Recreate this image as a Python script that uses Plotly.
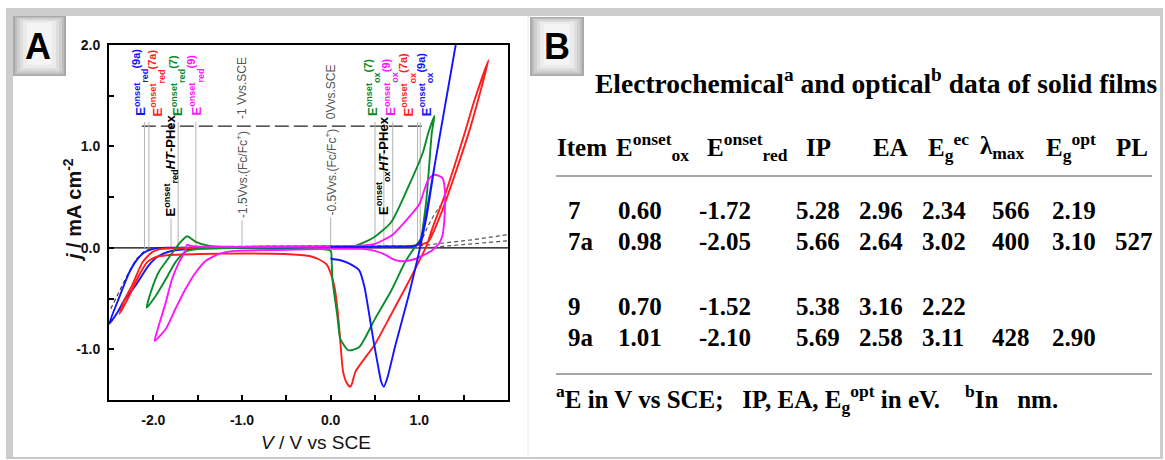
import plotly.graph_objects as go

W, H = 1165, 460

# ---------------- CV data (x: V vs SCE, y: mA cm^-2) ----------------
# 9a (blue): reduction scan and oxidation scan
blue_neg_x = [0.0, -1.0, -1.6, -1.94, -2.07, -2.16, -2.27, -2.39, -2.50, -2.47, -2.40, -2.33, -2.20, -2.05, -1.94, -1.79, -1.56, -1.0, 0.0]
blue_neg_y = [0.005, 0.005, 0.0, 0.0, -0.03, -0.09, -0.24, -0.50, -0.75, -0.72, -0.63, -0.52, -0.37, -0.17, -0.08, -0.03, -0.01, 0.0, 0.0]
blue_pos_x = [0.0, 0.5, 0.95, 1.0, 1.05, 1.15, 1.28, 1.42, 1.30, 1.18, 1.08, 1.02, 0.99, 0.88, 0.73, 0.64, 0.60, 0.57, 0.54, 0.48, 0.43, 0.38, 0.32, 0.20, 0.10, 0.02, 0.0]
blue_pos_y = [0.01, 0.01, 0.02, 0.05, 0.2, 0.7, 1.35, 2.05, 1.45, 0.85, 0.3, 0.05, -0.07, -0.47, -0.96, -1.28, -1.37, -1.32, -1.19, -0.90, -0.63, -0.38, -0.22, -0.15, -0.12, -0.11, -0.10]

# 7a (red): full loop
red_x = [1.78, 1.62, 1.49, 1.30, 1.15, 1.08, 0.90, 0.68, 0.50, 0.28, 0.24, 0.22, 0.18, 0.14, 0.12, 0.10, 0.07, 0.04, 0.0, -0.04, -0.14, -0.24, -0.52, -1.0, -1.45, -1.82, -1.97, -2.07, -2.16, -2.27, -2.38,
         -2.33, -2.24, -2.12, -2.01, -1.90, -1.5, -1.0, 0.0, 0.5, 0.9, 1.0, 1.1, 1.25, 1.40, 1.58, 1.78]
red_y = [1.85, 1.45, 1.07, 0.55, 0.2, 0.02, -0.30, -0.66, -0.95, -1.22, -1.34, -1.37, -1.33, -1.22, -1.05, -0.83, -0.55, -0.37, -0.25, -0.17, -0.11, -0.08, -0.06, -0.055, -0.06, -0.07, -0.09, -0.14, -0.27, -0.47, -0.65,
         -0.52, -0.37, -0.14, -0.04, -0.01, 0.0, 0.01, 0.015, 0.015, 0.02, 0.03, 0.06, 0.35, 0.72, 1.2, 1.85]

# 7 (green): full loop
green_x = [1.17, 1.14, 1.11, 1.08, 1.04, 1.02, 0.96, 0.84, 0.69, 0.50, 0.32, 0.20, 0.11, 0.075, 0.04, 0.02, 0.01, 0.0, -0.3, -1.07, -1.37, -1.52, -1.62, -1.71, -1.82, -1.94, -2.03, -2.075,
           -1.97, -1.86, -1.75, -1.64, -1.49, -1.0, 0.0, 0.28, 0.48, 0.68, 0.88, 1.04, 1.10, 1.17]
green_y = [1.30, 1.13, 0.80, 0.48, 0.20, 0.09, 0.02, -0.14, -0.41, -0.70, -0.98, -1.01, -0.90, -0.67, -0.45, -0.31, -0.11, -0.03, 0.0, 0.01, 0.02, 0.06, 0.115, 0.04, -0.09, -0.24, -0.44, -0.59,
           -0.47, -0.31, -0.14, -0.04, -0.01, 0.0, 0.01, 0.02, 0.10, 0.25, 0.61, 0.94, 1.13, 1.30]

# 9 (magenta): reduction loop and oxidation loop
mag_neg_x = [0.0, -0.5, -1.0, -1.4, -1.58, -1.62, -1.64, -1.71, -1.79, -1.86, -1.94, -1.985, -1.86, -1.75, -1.64, -1.52, -1.41, -1.26, -1.07, -0.5, 0.0]
mag_neg_y = [0.015, 0.012, 0.01, 0.01, 0.02, 0.03, -0.03, -0.14, -0.31, -0.54, -0.77, -0.917, -0.80, -0.60, -0.41, -0.24, -0.13, -0.06, -0.03, -0.02, -0.01]
mag_pos_x = [0.0, 0.3, 0.5, 0.6, 0.7, 0.8, 0.9, 1.0, 1.06, 1.10, 1.16, 1.22, 1.26, 1.285, 1.29, 1.28, 1.26, 1.22, 1.15, 1.05, 0.95, 0.85, 0.78, 0.70, 0.62, 0.50, 0.35, 0.0]
mag_pos_y = [0.015, 0.02, 0.04, 0.08, 0.13, 0.22, 0.32, 0.43, 0.58, 0.67, 0.72, 0.71, 0.69, 0.60, 0.45, 0.25, 0.12, 0.04, -0.02, -0.07, -0.11, -0.13, -0.13, -0.11, -0.07, -0.03, -0.01, -0.01]

# HT-PHex reference (dashed)
ref_left_x = [-2.48, -2.40, -2.30, -2.20, -2.10, -2.00, -1.0, 0.0, 1.0]
ref_left_y = [-0.60, -0.45, -0.28, -0.12, -0.03, 0.0, 0.015, 0.02, 0.02]
ref_up_x = [1.0, 1.2, 1.6, 2.0]
ref_up_y = [0.02, 0.04, 0.08, 0.13]
ref_low_x = [1.0, 1.2, 1.6, 2.0]
ref_low_y = [0.0, 0.01, 0.04, 0.07]
ref_rise_x = [1.04, 1.10, 1.17, 1.24]
ref_rise_y = [0.10, 0.22, 0.33, 0.42]

# onset markers (V vs SCE)
onset_red_items = ["(9a)", "(7a)", "(7)", "(9)"]
onset_red_vals = [-2.10, -2.05, -1.72, -1.52]
onset_ox_items = ["(7)", "(9)", "(7a)", "(9a)"]
onset_ox_vals = [0.60, 0.70, 0.98, 1.01]
htphex_onsets = [-1.80, 0.50]
fc_refs = [-1.0, 0.0]

# axis ticks
x_ticks = [-2.0, -1.5, -1.0, -0.5, 0.0, 0.5, 1.0, 1.5]
x_ticklabels = ["-2.0", "", "-1.0", "", "0.0", "", "1.0", ""]
y_ticks = [-1.0, -0.5, 0.0, 0.5, 1.0, 1.5, 2.0]
y_ticklabels = ["-1.0", "", "0.0", "", "1.0", "", "2.0"]

# ---------------- table data ----------------
tbl_items = ["7", "7a", "9", "9a"]
tbl_eox = ["0.60", "0.98", "0.70", "1.01"]
tbl_ered = ["-1.72", "-2.05", "-1.52", "-2.10"]
tbl_ip = ["5.28", "5.66", "5.38", "5.69"]
tbl_ea = ["2.96", "2.64", "3.16", "2.58"]
tbl_egec = ["2.34", "3.02", "2.22", "3.11"]
tbl_lmax = ["566", "400", "", "428"]
tbl_egopt = ["2.19", "3.10", "", "2.90"]
tbl_pl = ["", "527", "", ""]
tbl_headers = ["Item", "E<sup>onset</sup><sub>ox</sub>", "E<sup>onset</sup><sub>red</sub>", "IP", "EA",
               "E<sub>g</sub><sup>ec</sup>", "λ<sub>max</sub>", "E<sub>g</sub><sup>opt</sup>", "PL"]

BLUE, RED, GREEN, MAG = "#1414ff", "#ff1e1e", "#0b8c2c", "#ff14ff"


def px(x):
    return x / W


def py(y):
    return 1 - y / H


fig = go.Figure()

lw = 1.9
fig.add_trace(go.Scatter(x=ref_left_x, y=ref_left_y, mode="lines", line=dict(color="#444", width=1.2, dash="4px,3px")))
for xs, ys in [(ref_up_x, ref_up_y), (ref_low_x, ref_low_y), (ref_rise_x, ref_rise_y)]:
    fig.add_trace(go.Scatter(x=xs, y=ys, mode="lines", line=dict(color="#555", width=1.2, dash="4px,3px")))
fig.add_trace(go.Scatter(x=blue_neg_x, y=blue_neg_y, mode="lines", line=dict(color=BLUE, width=lw, shape="spline", smoothing=0.6)))
fig.add_trace(go.Scatter(x=red_x, y=red_y, mode="lines", line=dict(color=RED, width=lw, shape="spline", smoothing=0.6)))
fig.add_trace(go.Scatter(x=green_x, y=green_y, mode="lines", line=dict(color=GREEN, width=lw, shape="spline", smoothing=0.6)))
fig.add_trace(go.Scatter(x=mag_neg_x, y=mag_neg_y, mode="lines", line=dict(color=MAG, width=lw, shape="spline", smoothing=0.6)))
fig.add_trace(go.Scatter(x=mag_pos_x, y=mag_pos_y, mode="lines", line=dict(color=MAG, width=lw, shape="spline", smoothing=0.6)))
fig.add_trace(go.Scatter(x=blue_pos_x, y=blue_pos_y, mode="lines", line=dict(color=BLUE, width=lw, shape="spline", smoothing=0.6)))

shapes = []
annotations = []

# zero line
shapes.append(dict(type="line", xref="x", yref="y", x0=-2.5, x1=2.0, y0=0, y1=0, line=dict(color="black", width=1.4), layer="below"))
# dashed reference level
shapes.append(dict(type="line", xref="x", yref="y", x0=-2.13, x1=1.03, y0=1.2, y1=1.2,
                   line=dict(color="#222", width=1.4, dash="14px,5px"), layer="below"))
# vertical marker lines
for v in onset_red_vals + onset_ox_vals + [htphex_onsets[1]]:
    shapes.append(dict(type="line", xref="x", yref="y", x0=v, x1=v, y0=0, y1=1.24, line=dict(color="#b4b4b4", width=1), layer="below"))
for v, top in [(htphex_onsets[0], 0.29), (fc_refs[0], 0.27), (fc_refs[1], 0.30)]:
    shapes.append(dict(type="line", xref="x", yref="y", x0=v, x1=v, y0=0, y1=top, line=dict(color="#b4b4b4", width=1), layer="below"))

# rotated labels
lab_font = dict(family="Liberation Sans", size=13, weight="bold")
red_lab_x = [-2.16, -1.97, -1.74, -1.53]
ox_lab_x = [0.46, 0.66, 0.86, 1.06]


def onset_text(kind, item):
    return ("E<sup>onset</sup><sub>" + kind + "</sub><sup><span style='font-size:11px'>" + item + "</span></sup>")


for item, xl, c in zip(onset_red_items, red_lab_x, [BLUE, RED, GREEN, MAG]):
    annotations.append(dict(xref="x", yref="y", x=xl, y=1.28, xanchor="center", yanchor="bottom", textangle=-90, showarrow=False,
                            text=onset_text("red", item), font=dict(lab_font, color=c)))
for item, xl, c in zip(onset_ox_items, ox_lab_x, [GREEN, MAG, RED, BLUE]):
    annotations.append(dict(xref="x", yref="y", x=xl, y=1.28, xanchor="center", yanchor="bottom", textangle=-90, showarrow=False,
                            text=onset_text("ox", item), font=dict(lab_font, color=c)))
annotations.append(dict(xref="x", yref="y", x=-1.80, y=0.29, xanchor="center", yanchor="bottom", textangle=-90, showarrow=False,
                        text="E<sup>onset</sup><sub>red</sub><i>HT</i>-PHex", font=dict(lab_font, color="black")))
annotations.append(dict(xref="x", yref="y", x=0.59, y=0.31, xanchor="center", yanchor="bottom", textangle=-90, showarrow=False,
                        text="E<sup>onset</sup><sub>ox</sub><i>HT</i>-PHex", font=dict(lab_font, color="black")))
gfont = dict(family="Liberation Sans", size=12, color="#555")
annotations.append(dict(xref="x", yref="y", x=-1.0, y=0.27, xanchor="center", yanchor="bottom", textangle=-90, showarrow=False,
                        text="-1.5Vvs.(Fc/Fc<sup>+</sup>)", font=gfont))
annotations.append(dict(xref="x", yref="y", x=-1.0, y=1.25, xanchor="center", yanchor="bottom", textangle=-90, showarrow=False,
                        text="-1 Vvs.SCE", font=gfont))
annotations.append(dict(xref="x", yref="y", x=0.0, y=0.30, xanchor="center", yanchor="bottom", textangle=-90, showarrow=False,
                        text="-0.5Vvs.(Fc/Fc<sup>+</sup>)", font=gfont))
annotations.append(dict(xref="x", yref="y", x=0.0, y=1.25, xanchor="center", yanchor="bottom", textangle=-90, showarrow=False,
                        text="0Vvs.SCE", font=gfont))

# axis titles
annotations.append(dict(xref="paper", yref="paper", x=px(316), y=py(442), showarrow=False, xanchor="center", yanchor="middle",
                        text="<i>V</i> / V vs SCE", font=dict(family="Liberation Sans", size=19, color="#111")))
annotations.append(dict(xref="paper", yref="paper", x=px(72), y=py(210), showarrow=False, xanchor="center", yanchor="middle", textangle=-90,
                        text="<i>j</i>\u00a0/ mA cm<sup>-2</sup>", font=dict(family="Liberation Sans", size=20, color="#111", weight="bold")))

# ---------------- frames and panel labels ----------------
band = "#cdcdcd"
shapes.append(dict(type="rect", xref="paper", yref="paper", x0=px(6), x1=px(1163), y0=py(16), y1=py(8), fillcolor=band, line=dict(width=0), layer="below"))
shapes.append(dict(type="rect", xref="paper", yref="paper", x0=px(6), x1=px(13), y0=py(459), y1=py(8), fillcolor=band, line=dict(width=0), layer="below"))
shapes.append(dict(type="rect", xref="paper", yref="paper", x0=px(1160), x1=px(1163), y0=py(459), y1=py(8), fillcolor=band, line=dict(width=0), layer="below"))
shapes.append(dict(type="line", xref="paper", yref="paper", x0=px(6), x1=px(1163), y0=py(458), y1=py(458), line=dict(color="#c8c8c8", width=2), layer="below"))
shapes.append(dict(type="line", xref="paper", yref="paper", x0=px(528), x1=px(528), y0=py(16), y1=py(458), line=dict(color="#ececec", width=1), layer="below"))


def label_box(x0, y0, x1, y1):
    shades = ["#a9a9a9", "#bdbdbd", "#cfcfcf", "#dedede", "#ebebeb", "#f4f4f4"]
    insets = [0, 2, 4, 7, 10, 14]
    for s, d in zip(shades, insets):
        shapes.append(dict(type="rect", xref="paper", yref="paper", x0=px(x0 + d), x1=px(x1 - d), y0=py(y1 - d * 0.8), y1=py(y0 + d * 0.5),
                           fillcolor=s, line=dict(width=0), layer="below"))


label_box(13, 16, 66, 76)
label_box(530, 17, 584, 76)
annotations.append(dict(xref="paper", yref="paper", x=px(38), y=py(47), showarrow=False, text="A", xanchor="center", yanchor="middle",
                        font=dict(family="Liberation Sans", size=36, color="black", weight="bold")))
annotations.append(dict(xref="paper", yref="paper", x=px(557), y=py(47), showarrow=False, text="B", xanchor="center", yanchor="middle",
                        font=dict(family="Liberation Sans", size=36, color="black", weight="bold")))

# ---------------- table (panel B) ----------------
sf = "Liberation Serif"
annotations.append(dict(xref="paper", yref="paper", x=px(876), y=py(82), showarrow=False, xanchor="center", yanchor="middle",
                        text="Electrochemical<sup>a</sup> and optical<sup>b</sup> data of solid films",
                        font=dict(family=sf, size=27.5, color="black", weight="bold")))
head_x = [555, 614, 705, 804, 871, 926, 978, 1044, 1114]
for t, hx in zip(tbl_headers, head_x):
    annotations.append(dict(xref="paper", yref="paper", x=px(hx), y=py(147), showarrow=False, xanchor="left", yanchor="middle",
                            text=t, font=dict(family=sf, size=25, color="black", weight="bold")))
shapes.append(dict(type="line", xref="paper", yref="paper", x0=px(556), x1=px(1152), y0=py(176), y1=py(176), line=dict(color="#888", width=1.5)))
shapes.append(dict(type="line", xref="paper", yref="paper", x0=px(556), x1=px(1152), y0=py(374), y1=py(374), line=dict(color="#888", width=1.5)))
row_y = [210, 241, 306, 337]
col_x = [566, 616, 697, 794, 857, 920, 990, 1050, 1113]
cols = [tbl_items, tbl_eox, tbl_ered, tbl_ip, tbl_ea, tbl_egec, tbl_lmax, tbl_egopt, tbl_pl]
for col, cx in zip(cols, col_x):
    for val, ry in zip(col, row_y):
        if val:
            annotations.append(dict(xref="paper", yref="paper", x=px(cx), y=py(ry), showarrow=False, xanchor="left", yanchor="middle",
                                    text=val, font=dict(family=sf, size=25, color="black", weight="bold")))
annotations.append(dict(xref="paper", yref="paper", x=px(554), y=py(399), showarrow=False, xanchor="left", yanchor="middle",
                        text="<sup>a</sup>E in V vs SCE;\u00a0\u00a0 IP, EA, E<sub>g</sub><sup>opt</sup> in eV.\u00a0\u00a0\u00a0 <sup>b</sup>In\u00a0\u00a0 nm.",
                        font=dict(family=sf, size=25, color="black", weight="bold")))

axfont = dict(family="Liberation Sans", size=14, color="#111", weight="bold")
fig.update_layout(
    width=W, height=H, margin=dict(l=0, r=0, t=0, b=0),
    paper_bgcolor="white", plot_bgcolor="white", showlegend=False,
    shapes=shapes, annotations=annotations,
    xaxis=dict(domain=[px(109), px(508)], range=[-2.5, 2.0], tickvals=x_ticks, ticktext=x_ticklabels,
               ticks="inside", ticklen=5, tickwidth=1.5, tickcolor="black", showline=True, mirror=True,
               linecolor="black", linewidth=1.8, showgrid=False, zeroline=False, tickfont=axfont,
               ticklabelstandoff=6, automargin=False),
    yaxis=dict(domain=[1 - 400 / H, 1 - 45 / H], range=[-1.5, 2.0], tickvals=y_ticks, ticktext=y_ticklabels,
               ticks="inside", ticklen=5, tickwidth=1.5, tickcolor="black", showline=True, mirror=True,
               linecolor="black", linewidth=1.8, showgrid=False, zeroline=False, tickfont=axfont,
               ticklabelstandoff=4, automargin=False),
)

fig.write_html("out.html", config={"displayModeBar": False}, post_script="document.body.style.margin='0px';")
